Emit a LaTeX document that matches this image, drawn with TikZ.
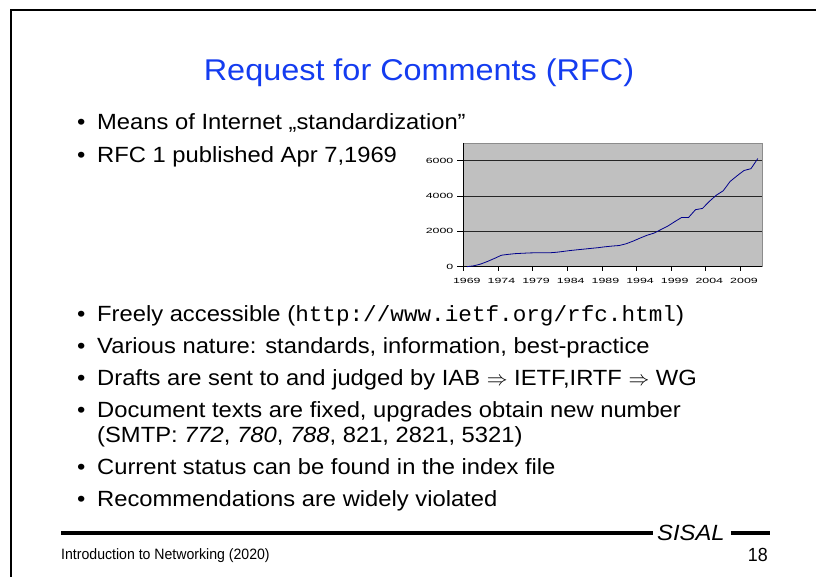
\documentclass[tikz,border=0pt]{standalone}
\usepackage{fontspec}
\setmainfont[FakeStretch=1.08]{Liberation Sans}
\setmonofont[FakeStretch=1.03]{Liberation Mono}
\newfontfamily\chartfont[FakeStretch=1.65]{Liberation Sans}
\newfontfamily\footfont[FakeStretch=0.94]{Liberation Sans}
\definecolor{titleblue}{RGB}{20,60,240}
\definecolor{plotgray}{RGB}{192,192,192}
\definecolor{plotblue}{RGB}{0,0,140}
\begin{document}
\begin{tikzpicture}[x=1pt,y=-1pt,
  bodytext/.style={anchor=base west, inner sep=0pt, font=\fontsize{22}{26}\selectfont},
  bulletmark/.style={anchor=base west, inner sep=0pt, font=\fontsize{22}{26}\selectfont},
  chartlabel/.style={inner sep=0pt, font=\chartfont\fontsize{7.5}{9}\selectfont},
  gridline/.style={black!85, line width=0.7pt},
  axisline/.style={black, line width=0.8pt},
  dataline/.style={plotblue, line width=0.8pt, line join=round},
  footrule/.style={black, line width=3.4pt}]
\useasboundingbox (0,0) rectangle (816,577);
\fill[white] (0,0) rectangle (816,577);
\draw[line width=2.2pt, line join=miter] (11,578) -- (11,10) -- (817,10);

% title
\node[anchor=base, inner sep=0pt, font=\fontsize{30}{36}\selectfont, text=titleblue] (title) at (419,80.7) {Request for Comments (RFC)};

% bullets
\foreach \y [count=\i] in {129.5,162.5,321,353,385,417,474,506}
  \node[bulletmark] (dot\i) at (77,\y) {•};
\node[bodytext] (t1) at (97,129.5) {Means of Internet „standardization”};
\node[bodytext] (t2) at (97,162.5) {RFC 1 published Apr 7,1969};
\node[bodytext] (t3) at (97,321) {Freely accessible (\texttt{http://www.ietf.org/rfc.html})};
\node[bodytext] (t4) at (97,353) {Various nature: standards, information, best-practice};
\node[bodytext] (t5) at (97,385) {Drafts are sent to and judged by IAB $\Rightarrow$ IETF,IRTF $\Rightarrow$ WG};
\node[bodytext] (t6) at (97,417) {Document texts are fixed, upgrades obtain new number};
\node[bodytext] (t6b) at (97,442) {(SMTP: \textit{772}, \textit{780}, \textit{788}, 821, 2821, 5321)};
\node[bodytext] (t7) at (97,474) {Current status can be found in the index file};
\node[bodytext] (t8) at (97,506) {Recommendations are widely violated};

% chart
\fill[plotgray] (463.3,143) rectangle (762,266.7);
\draw[black!45, line width=0.5pt] (463.3,143) rectangle (762,266.7);
\foreach \v/\yy in {2000/231.4,4000/196.1,6000/160.8}{
  \draw[gridline] (463.3,\yy) -- (762,\yy);
}
\foreach \v/\yy in {0/266.7,2000/231.4,4000/196.1,6000/160.8}{
  \draw[axisline] (457,\yy) -- (463.3,\yy);
  \node[chartlabel, anchor=base east] (yl\v) at (453.5,\yy+2.6) {\v};
}
\draw[axisline] (463.3,143) -- (463.3,266.7) -- (762,266.7);
\foreach \k in {0,...,8}{
  \draw[axisline] (463.3+34.65*\k,266.7) -- ++(0,4.5);
  \pgfmathtruncatemacro{\yr}{1969+5*\k}
  \node[chartlabel, anchor=base] (xl\k) at (466.8+34.65*\k,283.3) {\yr};
}
\begin{scope}[shift={(466.8,266.7)}, xscale=6.93, yscale=-0.01765]
\draw[dataline] plot coordinates {(0,0) (1,50) (2,150) (3,300) (4,470) (5,650) (6,700) (7,740) (8,760) (9,780) (10,790) (11,790) (12,790) (13,820) (14,870) (15,920) (16,960) (17,1000) (18,1040) (19,1080) (20,1130) (21,1170) (22,1200) (23,1300) (24,1450) (25,1620) (26,1780) (27,1900) (28,2100) (29,2300) (30,2550) (31,2790) (32,2790) (33,3230) (34,3300) (35,3700) (36,4050) (37,4300) (38,4830) (39,5150) (40,5450) (41,5550) (42,6130)};
\end{scope}

% footer
\node[anchor=base west, inner sep=0pt, font=\fontsize{22}{26}\selectfont\itshape] (sisal) at (657,540.5) {SISAL};
\draw[footrule] (61,533) -- ([xshift=-4pt]sisal.west |- 0,533);
\draw[footrule] ([xshift=6pt]sisal.east |- 0,533) -- (770,533);
\node[anchor=base west, inner sep=0pt, font=\footfont\fontsize{15}{18}\selectfont] (course) at (61,559) {Introduction to Networking (2020)};
\node[anchor=base east, inner sep=0pt, font=\footfont\fontsize{19}{22}\selectfont] (page) at (768,561) {18};
\end{tikzpicture}
\end{document}
